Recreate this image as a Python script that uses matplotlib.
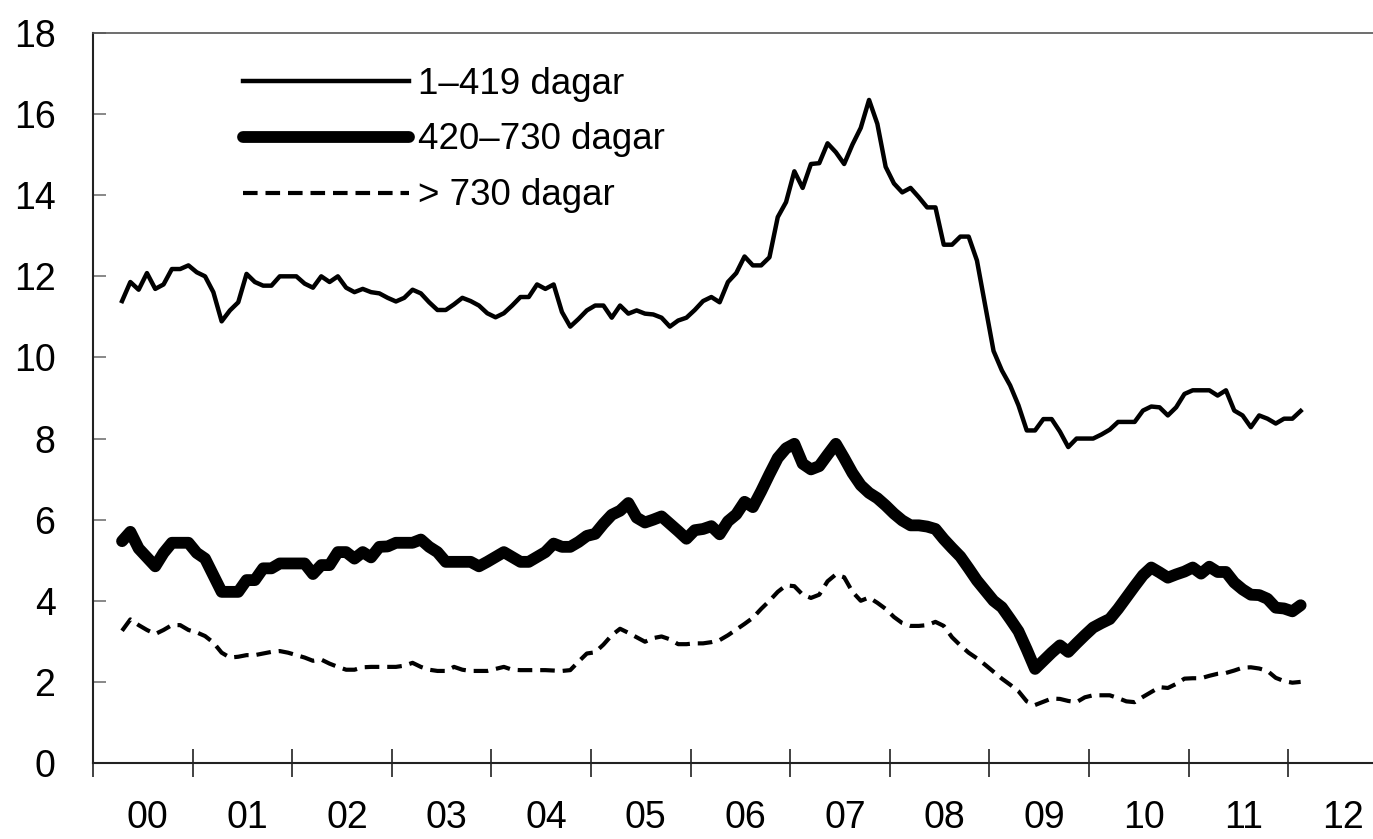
import numpy as np
import pandas as pd
import matplotlib
matplotlib.use("Agg")
import matplotlib.pyplot as plt

# monthly observations, April 2000 - February 2012
start_month = "2000-04-01"

kort = [
    11.39, 11.86, 11.67, 12.08, 11.69, 11.80, 12.18, 12.18, 12.27,
    12.10, 12.00, 11.61, 10.89, 11.16, 11.36, 12.06, 11.86, 11.77, 11.77, 12.00, 12.00,
    12.00, 11.82, 11.72, 12.00, 11.86, 12.00, 11.72, 11.61, 11.69, 11.61, 11.58, 11.47,
    11.38, 11.47, 11.67, 11.58, 11.36, 11.17, 11.17, 11.31, 11.47, 11.39, 11.28, 11.09,
    10.99, 11.09, 11.28, 11.49, 11.49, 11.80, 11.69, 11.80, 11.12, 10.76, 10.95, 11.16,
    11.28, 11.28, 10.98, 11.28, 11.08, 11.16, 11.08, 11.06, 10.98, 10.76, 10.91, 10.98,
    11.17, 11.39, 11.49, 11.36, 11.86, 12.08, 12.49, 12.27, 12.27, 12.47, 13.46, 13.83,
    14.59, 14.18, 14.77, 14.79, 15.28, 15.06, 14.77, 15.25, 15.66, 16.35, 15.76, 14.70,
    14.29, 14.07, 14.18, 13.95, 13.70, 13.70, 12.78, 12.78, 12.98, 12.98, 12.39, 11.28,
    10.16, 9.68, 9.31, 8.82, 8.20, 8.20, 8.48, 8.48, 8.17, 7.79, 8.00, 8.00,
    8.00, 8.10, 8.22, 8.41, 8.41, 8.41, 8.69, 8.79, 8.77, 8.57, 8.77, 9.10,
    9.19, 9.19, 9.19, 9.06, 9.19, 8.69, 8.57, 8.28, 8.57, 8.49, 8.37, 8.49,
    8.49, 8.68,
]

mellan = [
    5.47, 5.70, 5.29, 5.07, 4.85, 5.18, 5.43, 5.43, 5.43,
    5.18, 5.04, 4.63, 4.22, 4.22, 4.22, 4.51, 4.51, 4.80, 4.80, 4.92, 4.92,
    4.92, 4.92, 4.66, 4.88, 4.88, 5.20, 5.20, 5.04, 5.20, 5.07, 5.33, 5.34,
    5.43, 5.43, 5.43, 5.51, 5.33, 5.20, 4.96, 4.96, 4.96, 4.96, 4.85, 4.96,
    5.08, 5.20, 5.08, 4.96, 4.96, 5.08, 5.20, 5.41, 5.33, 5.33, 5.45, 5.60,
    5.65, 5.90, 6.12, 6.22, 6.41, 6.05, 5.93, 6.00, 6.08, 5.90, 5.72, 5.53,
    5.74, 5.77, 5.84, 5.64, 5.96, 6.13, 6.44, 6.31, 6.70, 7.12, 7.52, 7.76,
    7.87, 7.38, 7.24, 7.32, 7.60, 7.87, 7.52, 7.15, 6.85, 6.66, 6.53, 6.35,
    6.15, 5.98, 5.86, 5.86, 5.83, 5.77, 5.52, 5.30, 5.09, 4.80, 4.50, 4.25,
    4.00, 3.84, 3.55, 3.25, 2.80, 2.32, 2.52, 2.72, 2.90, 2.74, 2.95, 3.15,
    3.34, 3.45, 3.55, 3.80, 4.08, 4.36, 4.63, 4.82, 4.70, 4.57, 4.65, 4.72,
    4.82, 4.67, 4.84, 4.71, 4.71, 4.45, 4.28, 4.15, 4.14, 4.05, 3.83, 3.81,
    3.74, 3.89,
]

lang = [
    3.26, 3.54, 3.40, 3.28, 3.18, 3.28, 3.40, 3.40, 3.28,
    3.22, 3.13, 2.97, 2.72, 2.60, 2.62, 2.66, 2.66, 2.70, 2.74, 2.76, 2.72,
    2.66, 2.60, 2.52, 2.55, 2.45, 2.37, 2.30, 2.30, 2.36, 2.37, 2.37, 2.37,
    2.37, 2.40, 2.47, 2.37, 2.30, 2.27, 2.27, 2.37, 2.30, 2.27, 2.27, 2.27,
    2.32, 2.37, 2.30, 2.29, 2.29, 2.29, 2.29, 2.28, 2.27, 2.29, 2.50, 2.70,
    2.73, 2.92, 3.15, 3.31, 3.21, 3.10, 2.99, 3.08, 3.12, 3.05, 2.93, 2.93,
    2.95, 2.95, 2.98, 3.03, 3.15, 3.29, 3.43, 3.58, 3.80, 4.00, 4.22, 4.38,
    4.36, 4.15, 4.07, 4.15, 4.48, 4.65, 4.58, 4.22, 4.00, 4.08, 3.95, 3.80,
    3.60, 3.45, 3.38, 3.38, 3.40, 3.48, 3.38, 3.10, 2.90, 2.72, 2.58, 2.42,
    2.25, 2.08, 1.93, 1.77, 1.52, 1.43, 1.51, 1.59, 1.58, 1.53, 1.50, 1.62,
    1.67, 1.67, 1.67, 1.60, 1.52, 1.50, 1.63, 1.75, 1.87, 1.85, 1.95, 2.08,
    2.09, 2.09, 2.15, 2.20, 2.22, 2.28, 2.35, 2.36, 2.33, 2.27, 2.10, 2.02,
    1.98, 2.00,
]

labels = ["1\u2013419 dagar", "420\u2013730 dagar", "> 730 dagar"]
years = list(range(2000, 2013))
year_labels = [f"{y % 100:02d}" for y in years]
yticks = list(range(0, 19, 2))

# no narrow font installed: Liberation Sans is the closest
plt.rcParams["font.family"] = ["Liberation Sans", "DejaVu Sans"]

months = pd.date_range(start_month, periods=len(kort), freq="MS")
x = months.year + (months.month - 0.5) / 12

fig = plt.figure(figsize=(13.73, 8.39), dpi=100)
ax = fig.add_axes([93 / 1373, 76 / 839, 1280 / 1373, 730 / 839])

ax.plot(x, kort, color="black", lw=3.2, solid_joinstyle="round", label=labels[0])
ax.plot(x, mellan, color="black", lw=8.5, solid_joinstyle="round",
        solid_capstyle="round", label=labels[1])
ax.plot(x, lang, color="black", lw=3.0, dashes=(3.5, 1.9), label=labels[2])

ax.set_xlim(2000, 2000 + 1280 / 99.6)
ax.set_ylim(0, 18)

# year boundaries as ticks, labels centred in each year
ax.set_xticks(years)
ax.set_xticklabels([])
ax.set_xticks([y + 0.55 for y in years], minor=True)
ax.set_xticklabels(year_labels, minor=True)
ax.tick_params(axis="x", which="major", direction="inout", length=20,
               width=1.3, color="#333333")
ax.tick_params(axis="x", which="minor", length=0, pad=27, labelsize=27)

ax.set_yticks(yticks)
ax.set_yticklabels([str(v) for v in yticks])
ax.tick_params(axis="y", direction="in", length=9.5, width=1.4,
               color="#888888", pad=27, labelsize=27)

for side in ["left", "bottom"]:
    ax.spines[side].set_linewidth(1.5)
    ax.spines[side].set_color("#222222")
ax.spines["top"].set_linewidth(1.2)
ax.spines["top"].set_color("#555555")
ax.spines["right"].set_visible(False)

ax.legend(loc="center left", bbox_to_anchor=((243 - 93) / 1280, (763 - 140) / 730),
          frameon=False, fontsize=26.5, handlelength=4.5, handletextpad=0.25,
          labelspacing=0.57, borderpad=0, borderaxespad=0)

fig.savefig("out.png", dpi=100)
